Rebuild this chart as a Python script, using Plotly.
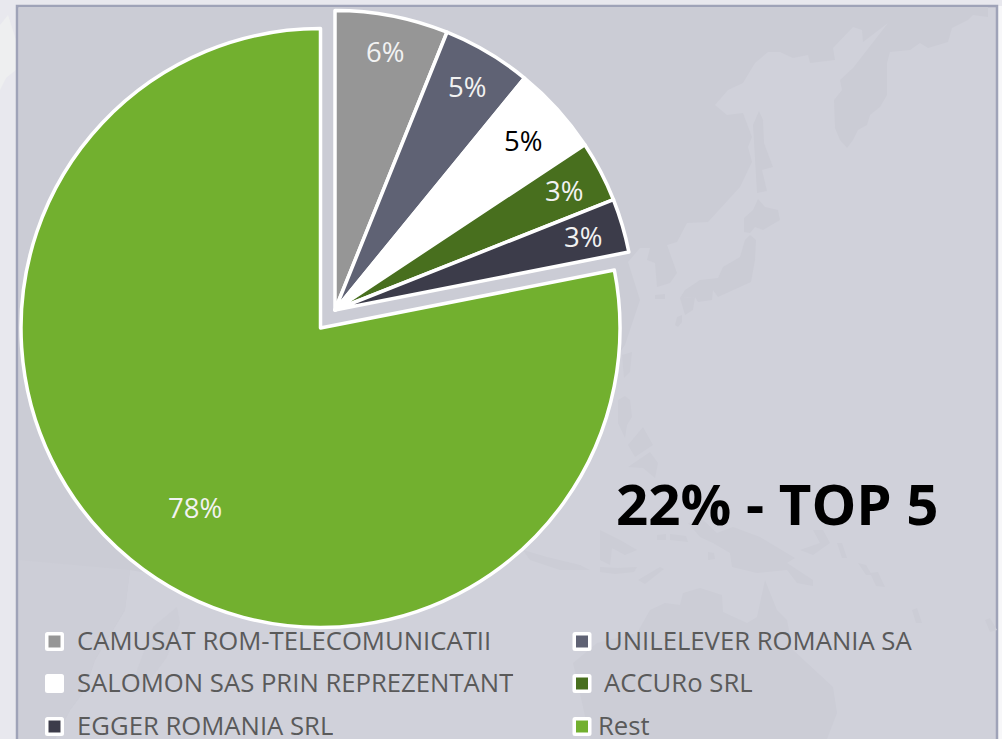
import math
import plotly.graph_objects as go

W, H = 1002, 739

# ---- data ----
top_names = ["CAMUSAT ROM-TELECOMUNICATII", "UNILELEVER ROMANIA SA",
             "SALOMON SAS PRIN REPREZENTANT", "ACCURo SRL", "EGGER ROMANIA SRL"]
top_values = [6.1, 4.8, 4.8, 3.3, 2.9]
top_labels = ["6%", "5%", "5%", "3%", "3%"]
top_colors = ["#969696", "#5f6274", "#ffffff", "#486f1e", "#3c3c4a"]
top_text_colors = ["#f2f2f2", "#f2f2f2", "#000000", "#f2f2f2", "#f2f2f2"]
rest_name = "Rest"
rest_value = 78.1
rest_label = "78%"
rest_color = "#72b02f"
title_text = "22% - TOP 5"

PANEL = "#d0d1da"
LAND = "#cbccd5"
LAND_FAINT = "#cccdd6"
LAND_BOTTOM = "#cdced7"
OUTER = "#e8e8ee"
BORDER = "#9fa3b8"
FONT = "Open Sans"
LEGEND_TEXT = "#5a5a5a"

# backdrop map outlines (decorative, in page pixels)
asia = [(19,7),(988,7),(988,17),(973,15),(968,20),(952,28),(948,42),(928,48),(920,43),(910,50),(890,52),(887,63),
        (887,95),(880,107),(870,115),(867,125),(858,130),(853,140),(847,148),(840,140),(835,128),(834,100),(842,90),
        (840,80),(853,68),(867,50),(888,23),(863,42),(862,30),(853,27),(833,48),(835,60),(810,63),(808,55),(793,58),
        (780,52),(768,52),(755,63),(743,83),(728,90),(715,105),(727,115),(743,113),(752,137),(748,147),(752,162),
        (740,187),(708,222),(687,223),(677,242),(667,245),(677,273),(670,283),(657,287),(655,263),(647,260),(650,248),
        (640,248),(628,262),(640,300),(625,345),(600,380),(300,600),(130,570),(125,610),(95,660),(85,690),(70,710),
        (55,739),(19,739)]
asia_low = [(19,560),(130,570),(125,610),(95,660),(85,690),(70,710),(55,739),(19,739)]
north_islands = [
    [(759,111),(753,125),(757,193),(767,191),(762,170),(773,167),(764,143),(763,120)],
    [(758,199),(753,210),(744,218),(744,232),(750,233),(755,227),(763,230),(780,220),(778,210),(765,207)],
    [(750,235),(756,240),(755,260),(751,282),(718,297),(713,290),(712,300),(698,302),(695,297),(680,298),(685,290),
     (700,280),(718,278),(723,267),(740,257),(745,240)],
    [(680,298),(695,297),(693,310),(685,315)],
    [(675,325),(677,317),(682,315),(682,322),(678,327)],
    [(655,295),(665,294),(665,299),(655,299)],
]
south_islands = [
    [(625,396),(618,400),(618,423),(625,438),(627,425),(632,417),(630,400)],
    [(628,467),(650,452),(658,463),(655,478),(643,468)],
    [(628,445),(643,427),(653,445),(635,457)],
    [(622,355),(632,352),(630,372),(624,378)],
    [(688,523),(703,520),(717,533),(733,527),(760,537),(795,558),(787,563),(813,580),(813,586),(797,583),(787,570),
     (757,573),(732,567),(730,553),(713,543),(700,537)],
    [(800,550),(820,543),(813,530),(823,530),(830,543),(813,555)],
    [(837,543),(842,543),(847,558),(842,558)],
    [(858,563),(866,565),(872,575),(866,575)],
    [(870,573),(878,572),(885,587),(876,586)],
    [(912,610),(917,608),(922,623),(916,623)],
    [(985,620),(990,618),(997,630),(990,632)],
    [(600,567),(618,568),(637,567),(634,572),(615,574),(600,572)],
    [(638,580),(660,567),(664,569),(645,584)],
    [(523,550),(547,557),(580,565),(590,570),(560,570),(530,560)],
    [(600,530),(620,540),(637,550),(625,555),(612,548),(610,565),(600,560)],
    [(657,535),(666,534),(666,540),(657,540)],
    [(670,534),(686,536),(688,542),(670,540)],
    [(708,552),(714,553),(715,559),(708,560)],
    [(573,663),(597,643),(637,633),(650,610),(665,603),(680,605),(683,593),(700,588),(722,595),(723,612),(747,623),
     (757,617),(765,580),(777,610),(787,620),(793,650),(833,687),(837,713),(827,739),(590,739),(583,707),(577,680)],
]
sumatra = [(177,607),(153,627),(137,670),(133,693),(143,690),(167,657),(180,623)]
outer_land = [[(0,25),(8,15),(16,40),(16,70),(6,78),(0,90)]]


def poly(points, fill):
    path = "M" + "L".join(f"{x},{y}" for x, y in points) + "Z"
    return dict(type="path", path=path, xref="x", yref="y", fillcolor=fill, line_width=0, layer="below")


def rounded(x0, y0, x1, y1, r, fill):
    path = (f"M{x0+r},{y0}L{x1-r},{y0}Q{x1},{y0} {x1},{y0+r}L{x1},{y1-r}Q{x1},{y1} {x1-r},{y1}"
            f"L{x0+r},{y1}Q{x0},{y1} {x0},{y1-r}L{x0},{y0+r}Q{x0},{y0} {x0+r},{y0}Z")
    return dict(type="path", path=path, xref="x", yref="y", fillcolor=fill, line_width=0, layer="above")


shapes = [dict(type="rect", x0=0, x1=W, y0=0, y1=H, xref="x", yref="y", fillcolor=OUTER, line_width=0, layer="below"),
          dict(type="rect", x0=997, x1=W, y0=6, y1=H, xref="x", yref="y", fillcolor="#f7f7f9", line_width=0, layer="below")]
shapes += [poly(p, "#eeeff0") for p in outer_land]
shapes.append(dict(type="rect", x0=17, x1=997, y0=6, y1=H + 5, xref="x", yref="y", fillcolor=PANEL,
                   line=dict(color=BORDER, width=2.5), layer="below"))
shapes.append(poly(asia, LAND))
shapes.append(poly(asia_low, LAND_BOTTOM))
shapes.append(poly(sumatra, LAND_BOTTOM))
shapes += [poly(p, LAND) for p in north_islands]
shapes += [poly(p, LAND_FAINT) for p in south_islands]

REST_C = (320.5, 328)
TOP_C = (335, 310)
R = 299.5
STROKE = 3.5


def domain(c, r):
    cx, cy = c
    return dict(x=[(cx - r) / W, (cx + r) / W], y=[1 - (cy + r) / H, 1 - (cy - r) / H])


fig = go.Figure()
# hidden axes give the page-pixel frame for the backdrop and the labels
fig.add_trace(go.Scatter(x=[0, W], y=[0, H], mode="markers", marker=dict(opacity=0), hoverinfo="skip", showlegend=False))

# Rest slice, with the top-5 share left empty
fig.add_trace(go.Pie(
    labels=["_top", rest_name], values=[sum(top_values), rest_value], textinfo="none",
    marker=dict(colors=["rgba(0,0,0,0)", rest_color], line=dict(color=["rgba(0,0,0,0)", "#ffffff"], width=[0, STROKE])),
    sort=False, direction="clockwise", rotation=0, domain=domain(REST_C, R), showlegend=False, hoverinfo="skip"))

# top-5 slices, pulled out as one block
fig.add_trace(go.Pie(
    labels=top_names + ["_rest"], values=top_values + [rest_value], textinfo="none",
    marker=dict(colors=top_colors + ["rgba(0,0,0,0)"],
                line=dict(color=["#ffffff"] * 5 + ["rgba(0,0,0,0)"], width=[STROKE] * 5 + [0])),
    sort=False, direction="clockwise", rotation=0, domain=domain(TOP_C, R), showlegend=False, hoverinfo="skip"))

annotations = []
PCT_SIZE = 27.5
label_radii = [263, 260, 253, 258, 259]


def pct_label(text, center, radius, angle_deg, color):
    a = math.radians(angle_deg)
    annotations.append(dict(x=center[0] + radius * math.sin(a), y=center[1] - radius * math.cos(a), xref="x", yref="y",
                            text=text, showarrow=False, font=dict(family=FONT, size=PCT_SIZE, color=color)))


# slice labels sit on each slice's mid-angle
total = sum(top_values) + rest_value
running = 0.0
for val, lab, col, rad in zip(top_values, top_labels, top_text_colors, label_radii):
    pct_label(lab, TOP_C, rad, (running + val / 2) / total * 360, col)
    running += val
pct_label(rest_label, REST_C, 219, 214.9, "#f2f2f2")

# legend
legend_names = top_names + [rest_name]
legend_colors = top_colors + [rest_color]
legend_box_x = [45, 572.5, 45, 572.5, 45, 572.5]
legend_box_y = [632, 632, 674, 674, 717, 717]
legend_text_x = [77, 604, 77, 604, 77, 598]
for name, color, bx, by, tx in zip(legend_names, legend_colors, legend_box_x, legend_box_y, legend_text_x):
    shapes.append(rounded(bx, by, bx + 19, by + 19, 2.5, "#ffffff"))
    shapes.append(dict(type="rect", x0=bx + 3.5, x1=bx + 15.5, y0=by + 3.5, y1=by + 15.5, xref="x", yref="y",
                       fillcolor=color, line_width=0, layer="above"))
    annotations.append(dict(x=tx, y=by + 8, xref="x", yref="y", text=name, showarrow=False, xanchor="left", yanchor="middle",
                            xshift=-2, height=26, font=dict(family=FONT, size=25.7, color=LEGEND_TEXT)))

annotations.append(dict(x=777, y=503, xref="x", yref="y", text=f"<b>{title_text}</b>", showarrow=False,
                        font=dict(family=FONT, size=56.4, color="#000000")))

fig.update_layout(
    width=W, height=H, margin=dict(l=0, r=0, t=0, b=0), autosize=False,
    paper_bgcolor=OUTER, plot_bgcolor="rgba(0,0,0,0)", showlegend=False,
    xaxis=dict(range=[0, W], visible=False, fixedrange=True),
    yaxis=dict(range=[H, 0], visible=False, fixedrange=True),
    shapes=shapes, annotations=annotations,
)
fig.write_html("out.html", config={"displayModeBar": False},
               post_script="document.body.style.margin='0';document.body.style.overflow='hidden';")
